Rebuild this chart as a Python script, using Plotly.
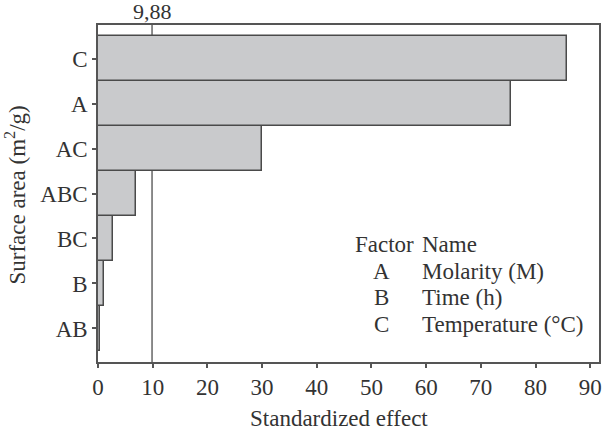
import plotly.graph_objects as go

factors = ["AB", "B", "BC", "ABC", "AC", "A", "C"]
effects = [0.45, 1.15, 2.7, 7.0, 29.9, 75.5, 85.8]
ref_value = 9.88
ref_label = "9,88"
x_ticks = [0, 10, 20, 30, 40, 50, 60, 70, 80, 90]
legend_codes = ["A", "B", "C"]
legend_names = ["Molarity (M)", "Time (h)", "Temperature (°C)"]
x_title = "Standardized effect"
y_title = "Surface area (m<sup>2</sup>/g)"

FONT = "Liberation Serif"
FS = 23
TXT = "#333333"
LINE = "#555555"

L, R, T, B = 98, 602, 25, 362

def px_to_paper(px_x, px_y):
    return (px_x - L) / (R - L), 1 - (px_y - T) / (B - T)

fig = go.Figure()
fig.add_trace(go.Bar(
    x=effects, y=factors, orientation="h", width=1.0,
    marker=dict(color="#c9cacc", line=dict(color="#4a4a4a", width=1.5)),
    showlegend=False,
))

fig.add_shape(type="line", xref="x", yref="paper", x0=ref_value, x1=ref_value,
              y0=0, y1=1, line=dict(color="#666666", width=1.5), layer="below")
fig.add_annotation(x=ref_value, y=1, xref="x", yref="paper", text=ref_label,
                   showarrow=False, yanchor="bottom", yshift=-1,
                   font=dict(family=FONT, size=FS - 1, color=TXT))

hx, hy = px_to_paper(355, 244)
fig.add_annotation(x=hx, y=hy, xref="paper", yref="paper", text="Factor",
                   showarrow=False, xanchor="left", yanchor="middle",
                   font=dict(family=FONT, size=FS, color=TXT))
nx, _ = px_to_paper(422, 244)
fig.add_annotation(x=nx, y=hy, xref="paper", yref="paper", text="Name",
                   showarrow=False, xanchor="left", yanchor="middle",
                   font=dict(family=FONT, size=FS, color=TXT))
for i, (c, n) in enumerate(zip(legend_codes, legend_names)):
    cx, cy = px_to_paper(383, 271 + 26.5 * i)
    fig.add_annotation(x=cx, y=cy, xref="paper", yref="paper", text=c,
                       showarrow=False, xanchor="center", yanchor="middle",
                       font=dict(family=FONT, size=FS, color=TXT))
    fig.add_annotation(x=nx, y=cy, xref="paper", yref="paper", text=n,
                       showarrow=False, xanchor="left", yanchor="middle",
                       font=dict(family=FONT, size=FS, color=TXT))

# axis titles
tx, ty = px_to_paper(340, 418)
fig.add_annotation(x=tx, y=ty, xref="paper", yref="paper", text=x_title,
                   showarrow=False, xanchor="center", yanchor="middle",
                   font=dict(family=FONT, size=FS, color=TXT))
yx, yy = px_to_paper(15, 195)
fig.add_annotation(x=yx, y=yy, xref="paper", yref="paper", text=y_title,
                   showarrow=False, xanchor="center", yanchor="middle", textangle=-90,
                   font=dict(family=FONT, size=FS, color=TXT))

fig.update_layout(
    width=610, height=431,
    margin=dict(l=L, r=610 - R, t=T, b=431 - B),
    paper_bgcolor="white", plot_bgcolor="white",
    font=dict(family=FONT, size=FS, color=TXT),
    bargap=0,
    xaxis=dict(
        range=[0, 91.6], tickvals=x_ticks, showgrid=False, zeroline=False,
        showline=True, linecolor=LINE, linewidth=1.5, mirror=True,
        ticks="outside", ticklen=4, tickcolor=LINE, tickwidth=1.5,
        tickfont=dict(family=FONT, size=FS, color=TXT),
    ),
    yaxis=dict(
        type="category", categoryorder="array", categoryarray=factors,
        range=[-0.745, 6.745], showgrid=False, zeroline=False,
        showline=True, linecolor=LINE, linewidth=1.5, mirror=True,
        ticks="outside", ticklen=4, tickcolor=LINE, tickwidth=1.5,
        tickfont=dict(family=FONT, size=FS, color=TXT),
    ),
)

fig.write_html("out.html")
